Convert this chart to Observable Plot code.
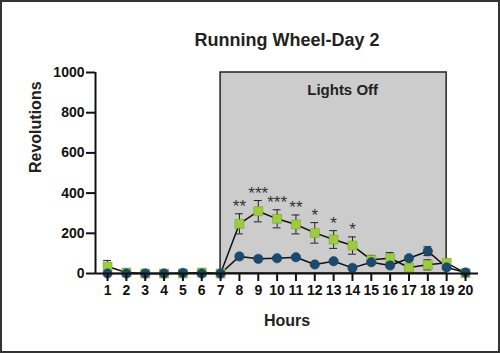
<!DOCTYPE html>
<html>
<head>
<meta charset="utf-8">
<script src="https://cdn.jsdelivr.net/npm/d3@7"></script>
<script src="https://cdn.jsdelivr.net/npm/@observablehq/plot@0.6"></script>
<style>
  html, body { margin: 0; padding: 0; background: #fff; }
  #chart svg { display: block; outline: 2px solid #333; outline-offset: -2px; }
  #chart svg g[aria-label$="tick label"] text { font-weight: bold !important; fill: #111 !important; }
</style>
</head>
<body>
<div id="chart"></div>
<script>
const hours = [1,2,3,4,5,6,7,8,9,10,11,12,13,14,15,16,17,18,19,20];
const greenMean = [35,5,0,0,0,5,0,247,310,272,244,202,169,139,68,76,30,43,53,2];
const greenErr  = [30,5,2,2,2,5,2,50,53,45,47,51,44,43,22,28,8,25,10,3];
const blueMean  = [0,0,0,0,3,0,0,85,73,76,81,45,61,28,56,40,76,111,30,5];
const blueErr   = [3,2,2,2,3,2,2,8,8,8,8,8,8,6,8,10,10,22,8,3];
const stars     = ["","","","","","","","**","***","***","**","*","*","*","","","","","",""];
const yTicks = [0,200,400,600,800,1000];
const lightsOff = [7, 19];
const title = "Running Wheel-Day 2";
const xLabel = "Hours";
const yLabel = "Revolutions";
const shadeLabel = "Lights Off";

const green = hours.map((h,i) => ({hour:h, mean:greenMean[i], err:greenErr[i], star:stars[i]}));
const blue = hours.map((h,i) => ({hour:h, mean:blueMean[i], err:blueErr[i]}));
const xDomain = [0.36, 20.69];
const cap = 0.21;
const GREEN = "#9ccb3b", BLUE = "#1b4a70";
const font = "Liberation Sans, Arial, Helvetica, sans-serif";

function errMarks(data) {
  return [
    Plot.ruleX(data, {x:"hour", y1:d=>d.mean-d.err, y2:d=>d.mean+d.err, stroke:"#222", strokeWidth:1}),
    Plot.ruleY(data, {y:d=>d.mean+d.err, x1:d=>d.hour-cap, x2:d=>d.hour+cap, stroke:"#222", strokeWidth:1}),
    Plot.ruleY(data, {y:d=>d.mean-d.err, x1:d=>d.hour-cap, x2:d=>d.hour+cap, stroke:"#222", strokeWidth:1})
  ];
}

const chart = Plot.plot({
  width: 500,
  height: 353,
  marginLeft: 95,
  marginRight: 22,
  marginTop: 72,
  marginBottom: 80,
  style: {fontFamily: font, fontWeight: "bold", background: "#fff", color: "#111"},
  x: {domain: xDomain, axis: null},
  y: {domain: [0, 1000], axis: null},
  marks: [
    Plot.rect([lightsOff], {x1:d=>d[0], x2:d=>d[1], y1:0, y2:1000, fill:"#cccccc", stroke:"#222", strokeWidth:1.5}),
    Plot.text([shadeLabel], {x:(lightsOff[0]+lightsOff[1])/2, y:1000, text:d=>d, dx:9, dy:12, fontSize:15, fontWeight:"bold", fill:"#222", lineAnchor:"top"}),
    ...errMarks(green),
    ...errMarks(blue),
    Plot.line(green, {x:"hour", y:"mean", stroke:"#111", strokeWidth:1.5}),
    Plot.line(blue, {x:"hour", y:"mean", stroke:"#111", strokeWidth:1.5}),
    Plot.dot(green, {x:"hour", y:"mean", symbol:"square", r:5.1, fill:GREEN, stroke:"#7a9a30", strokeWidth:0.5}),
    Plot.dot(blue, {x:"hour", y:"mean", symbol:"circle", r:4.7, fill:BLUE, stroke:"#15395a", strokeWidth:0.5}),
    Plot.text(green.filter(d=>d.star), {x:"hour", y:d=>d.mean+d.err, text:"star", dy:-7, fontSize:17, fontWeight:"normal", fill:"#333", lineAnchor:"middle"}),
    Plot.ruleY([0], {stroke:"#111", strokeWidth:2}),
    Plot.ruleX([xDomain[0]], {y1:0, y2:1000, stroke:"#111", strokeWidth:2}),
    Plot.axisY({ticks: yTicks, tickSize: 9, tickPadding: 2, tickFormat: d=>String(d), fontSize: 14, fontWeight: "bold", fill: "#111", strokeWidth: 2, label: null}),
    Plot.axisX({ticks: hours, tickSize: 8, tickPadding: 4, tickFormat: d=>String(d), fontSize: 14, fontWeight: "bold", fill: "#111", strokeWidth: 2, label: null}),
    Plot.text([title], {frameAnchor:"top", dy:-32, text:d=>d, fontSize:18, fontWeight:"bold", fill:"#222", lineAnchor:"middle"}),
    Plot.text([xLabel], {frameAnchor:"bottom", dy:47, text:d=>d, fontSize:16, fontWeight:"bold", fill:"#222", lineAnchor:"middle"}),
    Plot.text([yLabel], {frameAnchor:"left", dx:-60, rotate:-90, text:d=>d, fontSize:16, fontWeight:"bold", fill:"#222", lineAnchor:"middle"})
  ]
});
document.getElementById("chart").appendChild(chart);
</script>
</body>
</html>
